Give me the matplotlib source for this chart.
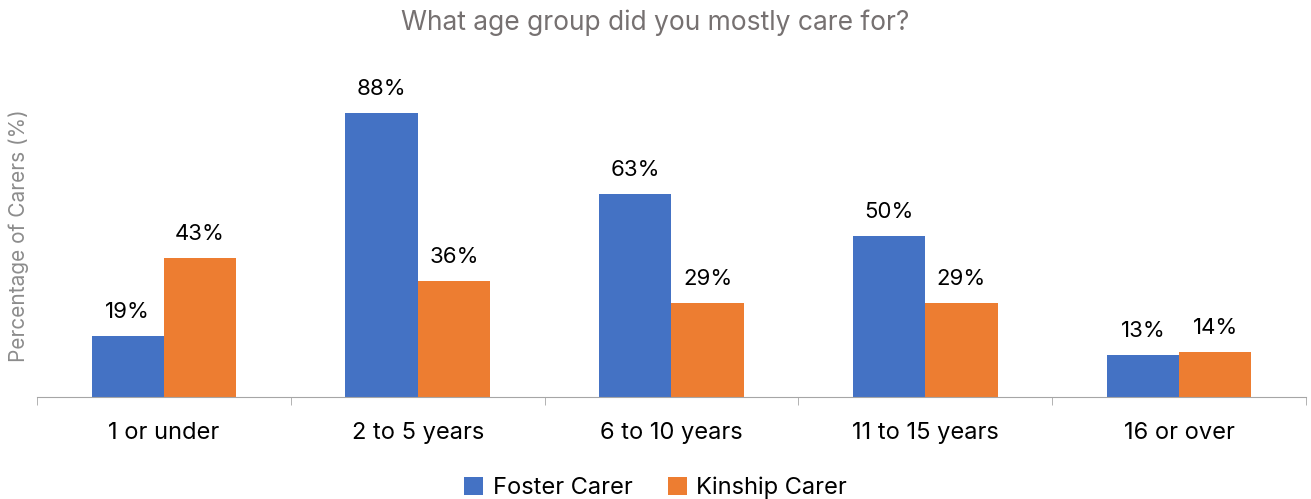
import matplotlib
matplotlib.use("Agg")
import matplotlib.pyplot as plt
import numpy as np

categories = ["1 or under", "2 to 5 years", "6 to 10 years", "11 to 15 years", "16 or over"]
foster = [19, 88, 63, 50, 13]
kinship = [43, 36, 29, 29, 14]
series_names = ["Foster Carer", "Kinship Carer"]
title = "What age group did you mostly care for?"
ylabel = "Percentage of Carers (%)"

plt.rcParams['font.family'] = ['Inter', 'DejaVu Sans']

fig = plt.figure(figsize=(13.11, 4.99), dpi=100)
ax = fig.add_axes([0.0282, 0.2044, 0.968, 0.6473])

x = np.arange(len(categories))
w = 0.285
blue = "#4472C4"
orange = "#ED7D31"
b1 = ax.bar(x - w/2, foster, w, color=blue, label=series_names[0])
b2 = ax.bar(x + w/2, kinship, w, color=orange, label=series_names[1])

for bars, vals in ((b1, foster), (b2, kinship)):
    for r, v in zip(bars, vals):
        ax.annotate(f"{v}%", (r.get_x() + r.get_width()/2, v), xytext=(0, 10),
                    textcoords="offset points", ha="center", va="bottom",
                    fontsize=16, color="#000000")

ax.set_xlim(-0.5, len(categories) - 0.5)
ax.set_ylim(0, 100)
for s in ["top", "right", "left"]:
    ax.spines[s].set_visible(False)
ax.spines["bottom"].set_color("#A6A6A6")
ax.set_yticks([])
ax.set_xticks(x)
ax.set_xticklabels(categories, fontsize=17)
ax.tick_params(axis="x", length=0, pad=18)
ax.set_xticks(np.arange(-0.5, len(categories)), minor=True)
ax.tick_params(axis="x", which="minor", length=6, color="#A6A6A6", direction="out")

fig.text(0.5, 0.955, title, ha="center", va="center", fontsize=19, color="#767171")
fig.text(0.014, 0.527, ylabel, rotation=90, ha="center", va="center", fontsize=15, color="#8C8C8C")

h, l = ax.get_legend_handles_labels()
fig.legend(h, l, loc="center", bbox_to_anchor=(0.5, 0.022), ncol=2, frameon=False,
           fontsize=17, handlelength=0.8, handleheight=0.8, columnspacing=1.5, handletextpad=0.4)

fig.savefig("out.png", dpi=100)
